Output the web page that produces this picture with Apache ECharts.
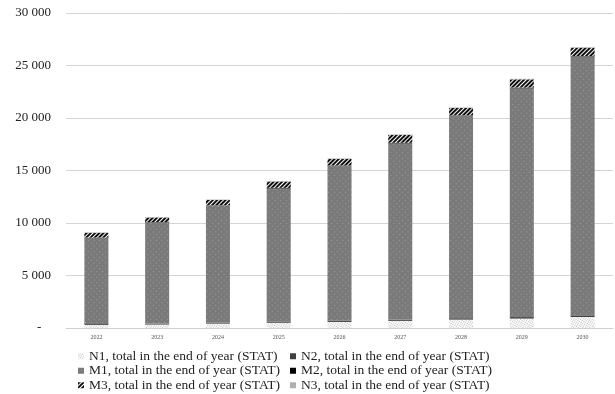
<!DOCTYPE html>
<html>
<head>
<meta charset="utf-8">
<script src="https://cdn.jsdelivr.net/npm/echarts@6/dist/echarts.min.js"></script>
<style>
  html, body { margin: 0; padding: 0; background: #fff; }
  #chart { width: 615px; height: 394px; }
</style>
</head>
<body>
<div id="chart"></div>
<script>
// Years on the category axis
const years = ['2022', '2023', '2024', '2025', '2026', '2027', '2028', '2029', '2030'];

// Stacked components, end-of-year totals
const n1 = [300, 330, 420, 500, 580, 680, 800, 900, 1050];
const n2 = [90, 90, 100, 100, 110, 120, 130, 140, 150];
const m1 = [8180, 9630, 11130, 12700, 14740, 16790, 19270, 21810, 24640];
const m2 = [40, 40, 40, 50, 50, 50, 50, 50, 50];
const m3 = [450, 430, 500, 600, 620, 740, 700, 780, 800];
const n3 = [40, 40, 40, 50, 50, 50, 50, 50, 50];

// Value axis ticks
const yMax = 30000;
const yStep = 5000;

const seriesNames = [
  'N1, total in the end of year (STAT)',
  'N2, total in the end of year (STAT)',
  'M1, total in the end of year (STAT)',
  'M2, total in the end of year (STAT)',
  'M3, total in the end of year (STAT)',
  'N3, total in the end of year (STAT)'
];

const serif = '"Liberation Serif", "DejaVu Serif", serif';

function fmt(v) {
  if (v === 0) return '-   ';
  return String(v).replace(/\B(?=(\d{3})+(?!\d))/g, ' ');
}

// plain fills get an invisible pattern so aria decals stay off them
const noDecal = { symbol: 'rect', color: 'rgba(0,0,0,0)' };

function bar(name, data, color, decal) {
  return {
    name: name,
    type: 'bar',
    stack: 'total',
    barWidth: 24,
    data: data,
    itemStyle: { color: color, decal: decal || noDecal },
    emphasis: { disabled: true }
  };
}

function legendColumn(left, names) {
  return {
    orient: 'vertical', left: left, top: 349, padding: 0, itemGap: 0,
    itemWidth: 6, itemHeight: 6, icon: 'rect',
    textStyle: { fontFamily: serif, fontSize: 13.5, lineHeight: 14.5, color: '#222' },
    data: names
  };
}

const chart = echarts.init(document.getElementById('chart'), null, { renderer: 'canvas' });

chart.setOption({
  animation: false,
  backgroundColor: '#ffffff',
  aria: { enabled: true, decal: { show: true } },
  grid: { left: 66, right: 2, top: 13, bottom: 66, containLabel: false },
  legend: [
    legendColumn(78, [seriesNames[0], seriesNames[2], seriesNames[4]]),
    legendColumn(290, [seriesNames[1], seriesNames[3], seriesNames[5]])
  ],
  xAxis: {
    type: 'category',
    data: years,
    axisLine: { lineStyle: { color: '#d0d0d0', width: 1 } },
    axisTick: { show: false },
    axisLabel: { fontFamily: serif, fontSize: 6, color: '#555', margin: 6 }
  },
  yAxis: {
    type: 'value',
    min: 0,
    max: yMax,
    interval: yStep,
    axisLine: { show: false },
    axisTick: { show: false },
    splitLine: { lineStyle: { color: '#d4d4d4', width: 1 } },
    axisLabel: { fontFamily: serif, fontSize: 13, color: '#222', margin: 15, formatter: fmt }
  },
  series: [
    bar(seriesNames[0], n1, '#ffffff', {
      symbol: 'rect', symbolSize: 1, dashArrayX: [1, 1], dashArrayY: [1, 1], color: '#b8b8b8'
    }),
    bar(seriesNames[1], n2, '#404040'),
    bar(seriesNames[2], m1, '#7a7a7a', {
      symbol: 'rect', symbolSize: 1, dashArrayX: [1, 3], dashArrayY: [1, 3], color: '#9c9c9c'
    }),
    bar(seriesNames[3], m2, '#000000'),
    bar(seriesNames[4], m3, '#ffffff', {
      symbol: 'rect', symbolSize: 1, dashArrayX: [1, 0], dashArrayY: [2, 1],
      rotation: -Math.PI / 4, color: '#111111'
    }),
    bar(seriesNames[5], n3, '#b0b0b0')
  ]
});
</script>
</body>
</html>
